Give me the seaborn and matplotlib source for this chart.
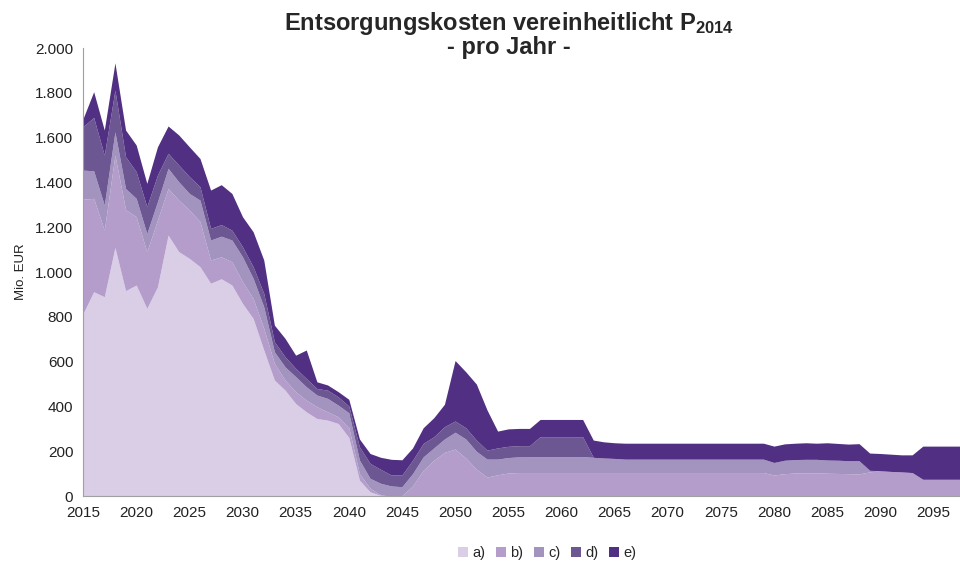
import numpy as np
import matplotlib
matplotlib.use("Agg")
import matplotlib.pyplot as plt
import seaborn as sns

# Data (Mio. EUR per year, stacked layers)
years = list(range(2015, 2099))

layer_a = [815, 912, 890, 1110, 917, 942, 838, 934, 1165, 1091,
           1061, 1024, 950, 970, 942, 860, 793, 652, 518, 473,
           413, 376, 346, 339, 324, 262, 71, 19, 3, 0,
           0, 0, 0, 0, 0, 0, 0, 0, 0, 0,
           0, 0, 0, 0, 0, 0, 0, 0, 0, 0,
           0, 0, 0, 0, 0, 0, 0, 0, 0, 0,
           0, 0, 0, 0, 0, 0, 0, 0, 0, 0,
           0, 0, 0, 0, 0, 0, 0, 0, 0, 0,
           0, 0, 0, 0]

layer_b = [510, 417, 297, 412, 362, 305, 253, 298, 208, 230,
           216, 201, 104, 98, 104, 97, 89, 97, 74, 45,
           53, 52, 53, 37, 30, 44, 29, 16, 2, 0,
           2, 45, 115, 160, 195, 210, 170, 120, 85, 95,
           103, 105, 105, 105, 105, 105, 105, 105, 105, 105,
           105, 105, 105, 105, 105, 105, 105, 105, 105, 105,
           105, 105, 105, 105, 105, 94, 100, 103, 104, 104,
           102, 101, 100, 99, 108, 113, 110, 108, 105, 75,
           75, 75, 75, 75]

layer_c = [130, 123, 112, 104, 94, 82, 81, 82, 90, 82,
           74, 96, 89, 92, 97, 111, 90, 96, 52, 59,
           67, 60, 52, 60, 52, 66, 61, 44, 52, 45,
           40, 55, 60, 55, 60, 75, 85, 80, 80, 70,
           69, 70, 70, 71, 71, 71, 71, 71, 68, 65,
           63, 60, 60, 60, 60, 60, 60, 60, 60, 60,
           60, 60, 60, 60, 60, 56, 60, 60, 60, 60,
           59, 59, 58, 59, 7, 0, 0, 0, 0, 0,
           0, 0, 0, 0]

layer_d = [195, 238, 223, 186, 142, 119, 120, 119, 67, 75,
           75, 60, 52, 52, 44, 45, 52, 60, 45, 45,
           37, 37, 29, 37, 37, 30, 59, 67, 62, 49,
           52, 60, 60, 50, 55, 50, 50, 50, 40, 50,
           50, 50, 50, 89, 89, 89, 89, 89, 0, 0,
           0, 0, 0, 0, 0, 0, 0, 0, 0, 0,
           0, 0, 0, 0, 0, 0, 0, 0, 0, 0,
           0, 0, 0, 0, 0, 0, 0, 0, 0, 0,
           0, 0, 0, 0]

layer_e = [35, 115, 112, 122, 119, 119, 104, 126, 122, 134,
           133, 126, 171, 178, 164, 134, 156, 149, 74, 82,
           59, 127, 30, 23, 23, 30, 35, 44, 54, 70,
           68, 55, 70, 85, 100, 270, 250, 250, 180, 75,
           78, 77, 77, 77, 77, 77, 77, 77, 77, 72,
           70, 71, 71, 71, 71, 71, 71, 71, 71, 71,
           71, 71, 71, 71, 71, 73, 73, 73, 74, 72,
           77, 75, 74, 76, 77, 77, 77, 76, 79, 148,
           148, 148, 148, 148]

labels = ["a)", "b)", "c)", "d)", "e)"]
colors = ["#dacde6", "#b49dcb", "#a393bf", "#6c5792", "#512f82"]

sns.set_style("white")
plt.rcParams["font.family"] = ["Liberation Sans", "DejaVu Sans"]
plt.rcParams["mathtext.fontset"] = "custom"
plt.rcParams["mathtext.rm"] = "Liberation Sans"
plt.rcParams["mathtext.bf"] = "Liberation Sans:bold"

fig = plt.figure(figsize=(9.6, 5.65), dpi=100)
ax = fig.add_axes([0.0865, 0.122, 0.9135, 0.793])

ax.stackplot(years, layer_a, layer_b, layer_c, layer_d, layer_e,
             labels=labels, colors=sns.color_palette(colors), linewidth=0)

ax.set_xlim(2015, 2097.5)
ax.set_ylim(0, 2000)
ax.set_xticks(range(2015, 2096, 5))
ax.set_yticks(range(0, 2001, 200))
ax.set_yticklabels([f"{v:,}".replace(",", ".") for v in range(0, 2001, 200)])
ax.tick_params(axis="both", labelsize=11, colors="#222222", length=4,
               width=0.8, direction="out", color="#a0a0a0")
ax.tick_params(axis="x", pad=3)
ax.tick_params(axis="y", pad=3)
for side in ["top", "right"]:
    ax.spines[side].set_visible(False)
for side in ["left", "bottom"]:
    ax.spines[side].set_color("#a0a0a0")
    ax.spines[side].set_linewidth(0.8)

ax.set_ylabel("Mio. EUR", fontsize=9.5, color="#222222", labelpad=6)

fig.text(0.53, 0.958, r"Entsorgungskosten vereinheitlicht $\mathbf{P_{2014}}$",
         ha="center", va="center", fontsize=17, fontweight="bold")
fig.text(0.53, 0.916, "- pro Jahr -", ha="center", va="center",
         fontsize=17, fontweight="bold")

fig.legend(loc="lower center", bbox_to_anchor=(0.57, -0.015), ncol=5,
           frameon=False, fontsize=10.5, handlelength=0.7, handleheight=0.7,
           handletextpad=0.3, columnspacing=0.7)

plt.savefig("out.png", dpi=100)
